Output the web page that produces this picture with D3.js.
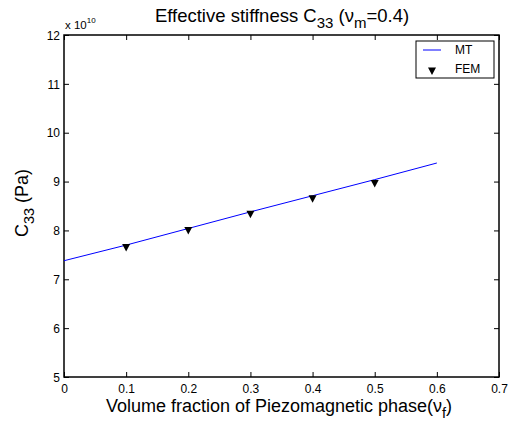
<!DOCTYPE html>
<html>
<head>
<meta charset="utf-8">
<script src="https://cdn.jsdelivr.net/npm/d3@7"></script>
<style>
  html, body { margin: 0; padding: 0; background: #fff; }
  svg { display: block; font-family: "Liberation Sans", Arial, sans-serif; }
</style>
</head>
<body>
<svg id="chart" width="510" height="425"></svg>
<script>
// Volume fraction of the piezomagnetic phase
const mtFraction = [0, 0.1, 0.2, 0.3, 0.4, 0.5, 0.6];
// Mori-Tanaka effective stiffness C33 (units of 1e10 Pa)
const mtC33 = [7.38, 7.70, 8.04, 8.38, 8.71, 9.04, 9.38];

const femFraction = [0.1, 0.2, 0.3, 0.4, 0.5];
// Finite element results (units of 1e10 Pa)
const femC33 = [7.65, 8.00, 8.33, 8.65, 8.96];

const xTicks = [0, 0.1, 0.2, 0.3, 0.4, 0.5, 0.6, 0.7];
const yTicks = [5, 6, 7, 8, 9, 10, 11, 12];

const svg = d3.select("#chart");
const L = 64, R = 499, T = 35, B = 377;

const x = d3.scaleLinear().domain([0, 0.7]).range([L, R]);
const y = d3.scaleLinear().domain([5, 12]).range([B, T]);

const tickLen = 5;

// Axes with MATLAB-style inward ticks
const gx = svg.append("g").attr("transform", `translate(0,${B})`)
  .call(d3.axisBottom(x).tickValues(xTicks).tickFormat(d3.format("")).tickSizeInner(-tickLen).tickSizeOuter(0));
const gxTop = svg.append("g").attr("transform", `translate(0,${T})`)
  .call(d3.axisTop(x).tickValues(xTicks).tickFormat("").tickSizeInner(-tickLen).tickSizeOuter(0));
const gy = svg.append("g").attr("transform", `translate(${L},0)`)
  .call(d3.axisLeft(y).tickValues(yTicks).tickFormat(d3.format("d")).tickSizeInner(-tickLen).tickSizeOuter(0));
const gyRight = svg.append("g").attr("transform", `translate(${R},0)`)
  .call(d3.axisRight(y).tickValues(yTicks).tickFormat("").tickSizeInner(-tickLen).tickSizeOuter(0));

[gx, gxTop, gy, gyRight].forEach(g => {
  g.select(".domain").remove();
  g.selectAll(".tick line").attr("stroke", "#000").attr("stroke-width", 1);
  g.selectAll("text").attr("fill", "#000").style("font-size", "12px")
    .style("font-family", "'Liberation Sans', Arial, sans-serif");
});
gx.selectAll("text").attr("y", 16).attr("dy", 0);
gy.selectAll("text").attr("x", -4).attr("dy", "0.35em");

// Frame
svg.append("rect").attr("x", L).attr("y", T).attr("width", R - L).attr("height", B - T)
  .attr("fill", "none").attr("stroke", "#000").attr("stroke-width", 1.5);

// Exponent label
const ex = svg.append("text").attr("x", L + 1).attr("y", 29).attr("font-size", 11.5).attr("fill", "#000");
ex.append("tspan").text("x 10");
ex.append("tspan").attr("dy", -6).attr("font-size", 8).text("10");

// MT curve
const line = d3.line().x((d, i) => x(mtFraction[i])).y(d => y(d));
svg.append("path").datum(mtC33).attr("d", line)
  .attr("fill", "none").attr("stroke", "#0000ff").attr("stroke-width", 1);

// FEM markers (downward triangles)
const tri = (cx, cy) => `M${cx - 4},${cy - 3.5}L${cx + 4},${cy - 3.5}L${cx},${cy + 4}Z`;
svg.append("g").selectAll("path").data(femC33).join("path")
  .attr("d", (d, i) => tri(x(femFraction[i]), y(d)))
  .attr("fill", "#000");

// Title
const title = svg.append("text").attr("x", 282).attr("y", 22).attr("text-anchor", "middle")
  .attr("font-size", 18.5).attr("fill", "#000");
title.append("tspan").text("Effective stiffness C");
title.append("tspan").attr("dy", 6).attr("font-size", 15).text("33");
title.append("tspan").attr("dy", -6).text(" (ν");
title.append("tspan").attr("dy", 6).attr("font-size", 15).text("m");
title.append("tspan").attr("dy", -6).text("=0.4)");

// X label
const xl = svg.append("text").attr("x", 279).attr("y", 412).attr("text-anchor", "middle")
  .attr("font-size", 18).attr("fill", "#000");
xl.append("tspan").text("Volume fraction of Piezomagnetic phase(ν");
xl.append("tspan").attr("dy", 6).attr("font-size", 14.5).text("f");
xl.append("tspan").attr("dy", -6).text(")");

// Y label
const yl = svg.append("text").attr("transform", "translate(28,203) rotate(-90)")
  .attr("text-anchor", "middle").attr("font-size", 18).attr("fill", "#000");
yl.append("tspan").text("C");
yl.append("tspan").attr("dy", 6).attr("font-size", 14.5).text("33");
yl.append("tspan").attr("dy", -6).text(" (Pa)");

// Legend
const lg = svg.append("g");
lg.append("rect").attr("x", 416).attr("y", 41).attr("width", 78).attr("height", 37)
  .attr("fill", "#fff").attr("stroke", "#000").attr("stroke-width", 1);
lg.append("line").attr("x1", 423).attr("x2", 441).attr("y1", 50).attr("y2", 50)
  .attr("stroke", "#0000ff").attr("stroke-width", 1);
lg.append("text").attr("x", 455).attr("y", 54).attr("font-size", 12).attr("fill", "#000").text("MT");
lg.append("path").attr("d", tri(432, 71)).attr("fill", "#000");
lg.append("text").attr("x", 455).attr("y", 73).attr("font-size", 12).attr("fill", "#000").text("FEM");
</script>
</body>
</html>
